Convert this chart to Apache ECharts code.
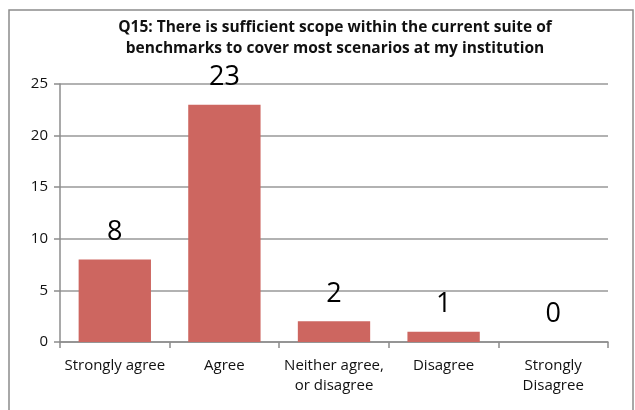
<!DOCTYPE html>
<html>
<head>
<meta charset="utf-8">
<script src="https://cdn.jsdelivr.net/npm/echarts@6/dist/echarts.min.js"></script>
<style>
  html, body { margin: 0; padding: 0; background: #fff; }
  #chart { width: 635px; height: 410px; }
</style>
</head>
<body>
<div id="chart"></div>
<script>
const categories = ['Strongly agree', 'Agree', 'Neither agree,\nor disagree', 'Disagree', 'Strongly\nDisagree'];
const counts = [8, 23, 2, 1, 0];
const titleText = 'Q15: There is sufficient scope within the current suite of\nbenchmarks to cover most scenarios at my institution';

const chart = echarts.init(document.getElementById('chart'));
const font = "'Open Sans', 'Liberation Sans', sans-serif";

const option = {
    animation: false,
    textStyle: { fontFamily: font },
    graphic: [{
        type: 'rect',
        shape: { x: 9, y: 10, width: 624, height: 420 },
        style: { fill: 'none', stroke: '#8c8c8c', lineWidth: 1.5 },
        silent: true
    }],
    title: {
        text: titleText,
        left: 330,
        textAlign: 'center',
        top: 12,
        textStyle: { fontFamily: font, fontSize: 15.5, fontWeight: 'bold', color: '#111', lineHeight: 21 }
    },
    grid: { left: 60, right: 27, top: 84, bottom: 68 },
    xAxis: {
        type: 'category',
        data: categories,
        axisLine: { lineStyle: { color: '#8c8c8c', width: 1.5 } },
        axisTick: { show: true, length: 6, lineStyle: { color: '#8c8c8c', width: 1.5 } },
        axisLabel: { color: '#111', fontSize: 15, fontFamily: font, margin: 14, lineHeight: 20, interval: 0 }
    },
    yAxis: {
        type: 'value',
        min: 0,
        max: 25,
        interval: 5,
        axisLine: { show: true, lineStyle: { color: '#8c8c8c', width: 1.5 } },
        axisTick: { show: true, length: 6, lineStyle: { color: '#8c8c8c', width: 1.5 } },
        axisLabel: { color: '#111', fontSize: 15, fontFamily: font, margin: 12 },
        splitLine: { lineStyle: { color: '#999', width: 1.5 } }
    },
    series: [{
        type: 'bar',
        data: counts,
        barCategoryGap: '34%',
        itemStyle: { color: '#cd6660' },
        label: {
            show: true,
            position: 'top',
            distance: 14,
            color: '#000',
            fontSize: 27,
            fontFamily: font
        }
    }]
};

chart.setOption(option);
</script>
</body>
</html>
